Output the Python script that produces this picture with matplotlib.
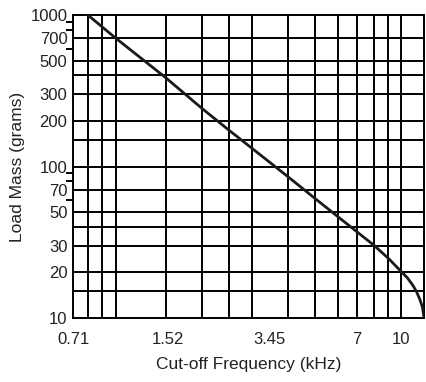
import matplotlib
matplotlib.use("Agg")
import matplotlib.pyplot as plt
from matplotlib.ticker import NullFormatter, FixedLocator

plt.rcParams['font.family'] = ['Liberation Sans', 'DejaVu Sans']

# curve
freq_khz = [0.8, 1.0, 1.5, 2.0, 2.5, 3.0, 4.0, 5.0, 6.0, 7.0, 8.0, 9.0, 10.0, 10.5, 11.0, 11.3, 11.6, 11.85, 12.0]
load_g = [1000, 705, 385, 243, 173, 132, 86, 61.3, 46.6, 37.0, 30.3, 24.8, 20.2, 18.4, 16.3, 14.9, 13.3, 11.8, 10]

x_labels = [0.71, 1.52, 3.45, 7, 10]
y_labels = [10, 20, 30, 50, 70, 100, 200, 300, 500, 700, 1000]
x_grid = [0.8, 0.9, 1, 1.5, 2, 2.5, 3, 4, 5, 6, 7, 8, 9, 10]
y_grid = [15, 20, 30, 40, 50, 70, 100, 150, 200, 300, 400, 500, 700]
y_small_ticks = [60, 80, 90, 600, 800, 900]

fig = plt.figure(figsize=(4.27, 3.82), dpi=100)
ax = fig.add_axes([0.171, 0.1675, 0.822, 0.7932])
ax.set_xscale('log')
ax.set_yscale('log')
ax.set_xlim(0.71, 12)
ax.set_ylim(10, 1000)

for v in x_grid:
    ax.axvline(v, color='black', lw=1.4, zorder=1)
for v in y_grid:
    ax.axhline(v, color='black', lw=1.4, zorder=1)

ax.plot(freq_khz, load_g, color='#1a1a1a', lw=2.0, zorder=3)

for s in ax.spines.values():
    s.set_linewidth(1.4)

ax.xaxis.set_major_locator(FixedLocator(x_labels))
ax.set_xticklabels([str(v) for v in x_labels])
ax.xaxis.set_minor_locator(FixedLocator([]))
ax.yaxis.set_major_locator(FixedLocator(y_labels))
ax.set_yticklabels([str(v) for v in y_labels])
ax.yaxis.set_minor_locator(FixedLocator(y_small_ticks))
ax.yaxis.set_minor_formatter(NullFormatter())

ax.tick_params(axis='x', which='major', length=0, pad=10, labelsize=12, labelcolor='#222222')
ax.tick_params(axis='y', which='major', length=0, pad=4, labelsize=12, labelcolor='#222222')
ax.tick_params(axis='y', which='minor', length=5, width=1.4, direction='out')

ax.set_xlabel('Cut-off Frequency (kHz)', fontsize=12.5, labelpad=7, color='#222222')
ax.set_ylabel('Load Mass (grams)', fontsize=12.5, labelpad=4, color='#222222')

fig.savefig('out.png', dpi=100)
